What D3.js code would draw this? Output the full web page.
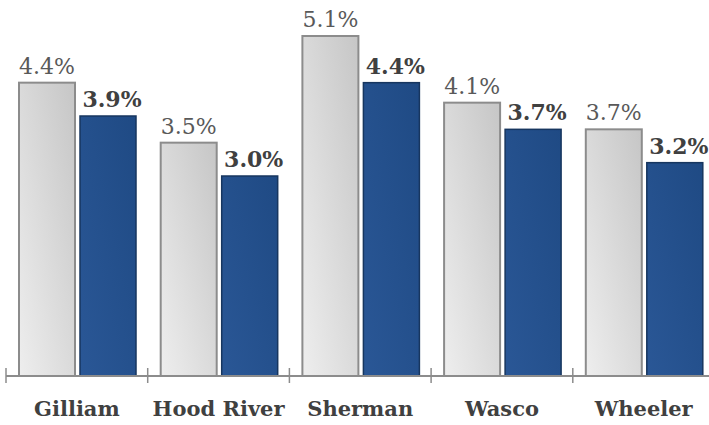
<!DOCTYPE html>
<html>
<head>
<meta charset="utf-8">
<style>
  body { margin: 0; background: #fff; }
  svg text { font-family: 'DejaVu Serif', serif; }
</style>
</head>
<body>
<svg width="709" height="425"></svg>
<script src="https://cdn.jsdelivr.net/npm/d3@7"></script>
<script>
  var counties = ["Gilliam", "Hood River", "Sherman", "Wasco", "Wheeler"];
  var prior = [4.4, 3.5, 5.1, 4.1, 3.7];
  var current = [3.9, 3.0, 4.4, 3.7, 3.2];

  var svg = d3.select("svg");
  var axisY = 376;

  // band per county
  var x = d3.scaleBand()
    .domain(counties)
    .range([6, 714.5])
    .paddingInner(0)
    .paddingOuter(0);

  var y = d3.scaleLinear()
    .domain([0, 5.64])
    .range([axisY, 0]);

  // gradients
  var defs = svg.append("defs");
  var gg = defs.append("linearGradient").attr("id", "gray")
    .attr("x1", "0").attr("y1", "1").attr("x2", "1").attr("y2", "0");
  gg.append("stop").attr("offset", "0").attr("stop-color", "#eeeeee");
  gg.append("stop").attr("offset", "1").attr("stop-color", "#c6c6c6");
  var bg = defs.append("linearGradient").attr("id", "blue")
    .attr("x1", "0").attr("y1", "1").attr("x2", "1").attr("y2", "0");
  bg.append("stop").attr("offset", "0").attr("stop-color", "#2a5796");
  bg.append("stop").attr("offset", "1").attr("stop-color", "#1f4a84");

  var barW = 56;
  var grayOff = 13, blueOff = 74;

  var g = svg.append("g");

  // gray bars (prior)
  g.selectAll(".prior")
    .data(counties)
    .enter().append("rect")
    .attr("class", "prior")
    .attr("x", function(d) { return x(d) + grayOff; })
    .attr("y", function(d, i) { return y(prior[i]); })
    .attr("width", barW)
    .attr("height", function(d, i) { return axisY - y(prior[i]); })
    .attr("fill", "url(#gray)")
    .attr("stroke", "#8c8c8c")
    .attr("stroke-width", 2);

  g.selectAll(".current")
    .data(counties)
    .enter().append("rect")
    .attr("class", "current")
    .attr("x", function(d) { return x(d) + blueOff; })
    .attr("y", function(d, i) { return y(current[i]); })
    .attr("width", barW)
    .attr("height", function(d, i) { return axisY - y(current[i]); })
    .attr("fill", "url(#blue)")
    .attr("stroke", "#17365f")
    .attr("stroke-width", 1.5);

  // value labels
  g.selectAll(".plab")
    .data(counties)
    .enter().append("text")
    .attr("x", function(d) { return x(d) + grayOff + barW / 2; })
    .attr("y", function(d, i) { return y(prior[i]) - 9; })
    .attr("text-anchor", "middle")
    .attr("font-size", 22)
    .attr("fill", "#595959")
    .text(function(d, i) { return prior[i].toFixed(1) + "%"; });

  g.selectAll(".clab")
    .data(counties)
    .enter().append("text")
    .attr("x", function(d) { return x(d) + blueOff + barW / 2 + 4; })
    .attr("y", function(d, i) { return y(current[i]) - 9; })
    .attr("text-anchor", "middle")
    .attr("font-size", 22)
    .attr("font-weight", "bold")
    .attr("fill", "#404040")
    .text(function(d, i) { return current[i].toFixed(1) + "%"; });

  // axis
  var ax = svg.append("g")
    .attr("transform", "translate(0," + axisY + ")")
    .call(d3.axisBottom(x).tickSize(0).tickPadding(25));
  ax.select(".domain").attr("stroke", "#8c8c8c").attr("stroke-width", 2)
    .attr("d", "M6,0H709");
  ax.selectAll(".tick line").remove();
  ax.selectAll(".tick text")
    .attr("font-family", "'DejaVu Serif', serif")
    .attr("font-size", 21)
    .attr("font-weight", "bold")
    .attr("fill", "#404040");

  // tick marks at band boundaries
  var bounds = counties.map(function(d) { return x(d); });
  svg.append("g").selectAll("line")
    .data(bounds)
    .enter().append("line")
    .attr("x1", function(d) { return d; })
    .attr("x2", function(d) { return d; })
    .attr("y1", axisY - 8)
    .attr("y2", axisY + 7)
    .attr("stroke", "#8c8c8c")
    .attr("stroke-width", 1.5);
</script>
</body>
</html>
